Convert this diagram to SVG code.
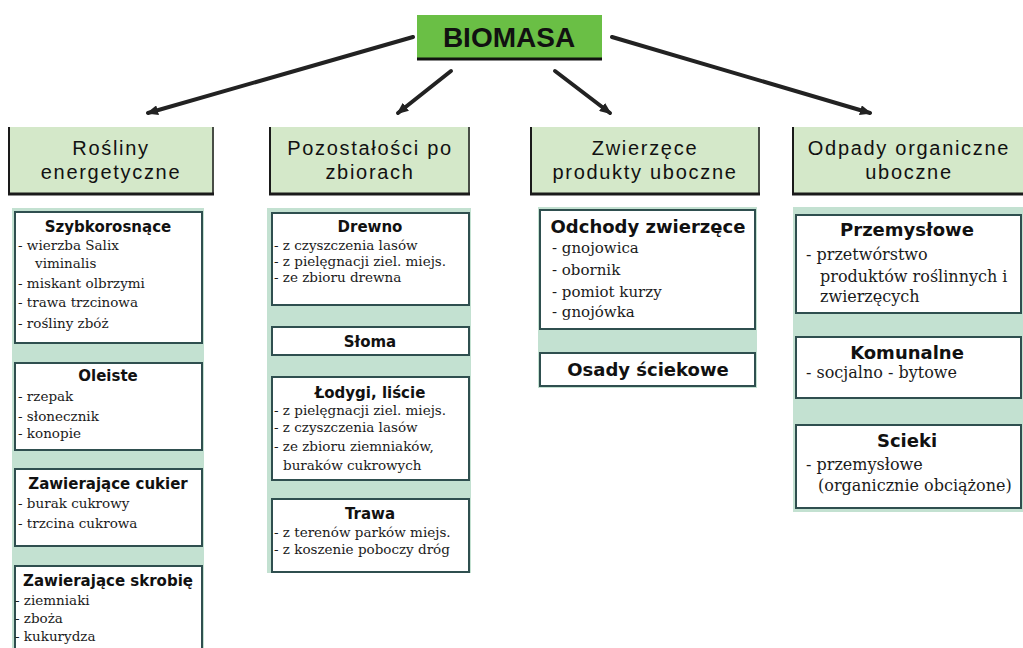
<svg xmlns="http://www.w3.org/2000/svg" width="1023" height="648" viewBox="0 0 1023 648">
<style>
.cat{fill:#d4e8c9}
.catb{stroke:#1a1a1a;fill:none}
.cattxt{font-family:"Liberation Sans",Arial,sans-serif;font-size:20px;letter-spacing:1.7px;fill:#111;text-anchor:middle}
.panel{fill:#c3e1d1}
.box{fill:#ffffff;stroke:#2f4f4f;stroke-width:2}
.h{font-family:"DejaVu Sans",Verdana,sans-serif;font-weight:bold;fill:#111;text-anchor:middle}
.h15{font-size:15px}
.h18{font-size:18px}
.it{font-family:"DejaVu Serif","Liberation Serif",serif;fill:#1a1a1a}
.i14{font-size:13.5px}
.i15{font-size:15px}
.i16{font-size:16px}
.arr{stroke:#222;stroke-width:4;fill:none;stroke-linecap:round}
</style>
<defs>
<marker id="ah" viewBox="0 0 12 10" refX="10" refY="5" markerWidth="12" markerHeight="10" markerUnits="userSpaceOnUse" orient="auto">
<path d="M0,0 L12,5 L0,10 z" fill="#222"/>
</marker>
</defs>
<rect width="1023" height="648" fill="#ffffff"/>

<g id="connectors">
<line class="arr" x1="413" y1="37" x2="148" y2="113" marker-end="url(#ah)"/>
<line class="arr" x1="451" y1="71" x2="398" y2="113" marker-end="url(#ah)"/>
<line class="arr" x1="555" y1="71" x2="610" y2="113" marker-end="url(#ah)"/>
<line class="arr" x1="612" y1="37" x2="870" y2="113" marker-end="url(#ah)"/>
</g>

<g id="biomasa">
<rect x="417" y="15" width="185" height="45" fill="#6abf45"/>
<line x1="417" y1="59" x2="602" y2="59" stroke="#111" stroke-width="3"/>
<text x="509" y="47" font-family="Liberation Sans,Arial,sans-serif" font-weight="bold" font-size="28" text-anchor="middle" fill="#111">BIOMASA</text>
</g>

<g id="cat1">
<rect class="cat" x="8" y="127" width="206" height="67"/>
<path class="catb" stroke-width="2" d="M9,127 V194"/>
<path class="catb" stroke-width="1.5" d="M213,127 V194"/>
<path class="catb" stroke-width="3" d="M8,194 H214"/>
<text class="cattxt" x="111" y="155">Rośliny</text>
<text class="cattxt" x="111" y="179">energetyczne</text>
</g>
<g id="cat2">
<rect class="cat" x="269" y="127" width="201" height="67"/>
<path class="catb" stroke-width="2" d="M270,127 V194"/>
<path class="catb" stroke-width="1.5" d="M469,127 V194"/>
<path class="catb" stroke-width="3" d="M269,194 H470"/>
<text class="cattxt" x="370" y="155">Pozostałości po</text>
<text class="cattxt" x="370" y="179">zbiorach</text>
</g>
<g id="cat3">
<rect class="cat" x="530" y="127" width="230" height="67"/>
<path class="catb" stroke-width="2" d="M531,127 V194"/>
<path class="catb" stroke-width="1.5" d="M759,127 V194"/>
<path class="catb" stroke-width="3" d="M530,194 H760"/>
<text class="cattxt" x="645" y="155">Zwierzęce</text>
<text class="cattxt" x="645" y="179">produkty uboczne</text>
</g>
<g id="cat4">
<rect class="cat" x="792" y="127" width="231" height="67"/>
<path class="catb" stroke-width="2" d="M793,127 V194"/>
<path class="catb" stroke-width="3" d="M792,194 H1023"/>
<text class="cattxt" x="909" y="155">Odpady organiczne</text>
<text class="cattxt" x="909" y="179">uboczne</text>
</g>

<g id="panel1">
<rect class="panel" x="12" y="208" width="192" height="440"/>
<g id="szybkorosnace">
<rect class="box" x="15" y="212" width="187" height="131"/>
<text class="h h15" x="108" y="232">Szybkorosnące</text>
<text class="it i14" x="18" y="250">- wierzba Salix</text>
<text class="it i14" x="35" y="268">viminalis</text>
<text class="it i14" x="18" y="288">- miskant olbrzymi</text>
<text class="it i14" x="18" y="307">- trawa trzcinowa</text>
<text class="it i14" x="18" y="328">- rośliny zbóż</text>
</g>
<g id="oleiste">
<rect class="box" x="15" y="363" width="187" height="87"/>
<text class="h h15" x="108" y="381">Oleiste</text>
<text class="it i14" x="18" y="401">- rzepak</text>
<text class="it i14" x="18" y="421">- słonecznik</text>
<text class="it i14" x="18" y="438">- konopie</text>
</g>
<g id="cukier">
<rect class="box" x="15" y="469" width="187" height="77"/>
<text class="h h15" x="108" y="489">Zawierające cukier</text>
<text class="it i14" x="18" y="508">- burak cukrowy</text>
<text class="it i14" x="18" y="528">- trzcina cukrowa</text>
</g>
<g id="skrobie">
<rect class="box" x="15" y="566" width="187" height="90"/>
<text class="h h15" x="108" y="586">Zawierające skrobię</text>
<text class="it i14" x="15" y="605">- ziemniaki</text>
<text class="it i14" x="15" y="623">- zboża</text>
<text class="it i14" x="15" y="641">- kukurydza</text>
</g>
</g>

<g id="panel2">
<rect class="panel" x="267" y="208" width="204" height="365"/>
<g id="drewno">
<rect class="box" x="272" y="213" width="197" height="92"/>
<text class="h h15" x="370" y="232">Drewno</text>
<text class="it i14" x="274" y="250">- z czyszczenia lasów</text>
<text class="it i14" x="274" y="266">- z pielęgnacji ziel. miejs.</text>
<text class="it i14" x="274" y="282">- ze zbioru drewna</text>
</g>
<g id="sloma">
<rect class="box" x="272" y="327" width="197" height="28"/>
<text class="h h15" x="370" y="347">Słoma</text>
</g>
<g id="lodygi">
<rect class="box" x="272" y="377" width="197" height="103"/>
<text class="h h15" x="370" y="398">Łodygi, liście</text>
<text class="it i14" x="274" y="415">- z pielęgnacji ziel. miejs.</text>
<text class="it i14" x="274" y="432">- z czyszczenia lasów</text>
<text class="it i14" x="274" y="451">- ze zbioru ziemniaków,</text>
<text class="it i14" x="283" y="470">buraków cukrowych</text>
</g>
<g id="trawa">
<rect class="box" x="272" y="499" width="197" height="73"/>
<text class="h h15" x="370" y="519">Trawa</text>
<text class="it i14" x="274" y="537">- z terenów parków miejs.</text>
<text class="it i14" x="274" y="554">- z koszenie poboczy dróg</text>
</g>
</g>

<g id="panel3">
<rect class="panel" x="538" y="207" width="219" height="181"/>
<g id="odchody">
<rect class="box" x="540" y="210" width="215" height="119"/>
<text class="h h18" x="648" y="233">Odchody zwierzęce</text>
<text class="it i15" x="552" y="253">- gnojowica</text>
<text class="it i15" x="552" y="275">- obornik</text>
<text class="it i15" x="552" y="297">- pomiot kurzy</text>
<text class="it i15" x="552" y="317">- gnojówka</text>
</g>
<g id="osady">
<rect class="box" x="540" y="353" width="215" height="33"/>
<text class="h h18" x="648" y="376">Osady ściekowe</text>
</g>
</g>

<g id="panel4">
<rect class="panel" x="793" y="207" width="230" height="305"/>
<g id="przemyslowe">
<rect class="box" x="796" y="215" width="225" height="98"/>
<text class="h h18" x="907" y="236">Przemysłowe</text>
<text class="it i16" x="806" y="260">- przetwórstwo</text>
<text class="it i16" x="820" y="282">produktów roślinnych i</text>
<text class="it i16" x="820" y="302">zwierzęcych</text>
</g>
<g id="komunalne">
<rect class="box" x="796" y="337" width="225" height="61"/>
<text class="h h18" x="907" y="359">Komunalne</text>
<text class="it i16" x="806" y="378">- socjalno - bytowe</text>
</g>
<g id="scieki">
<rect class="box" x="796" y="425" width="225" height="83"/>
<text class="h h18" x="907" y="447">Scieki</text>
<text class="it i16" x="806" y="470">- przemysłowe</text>
<text class="it i16" x="818" y="491">(organicznie obciążone)</text>
</g>
</g>
</svg>
